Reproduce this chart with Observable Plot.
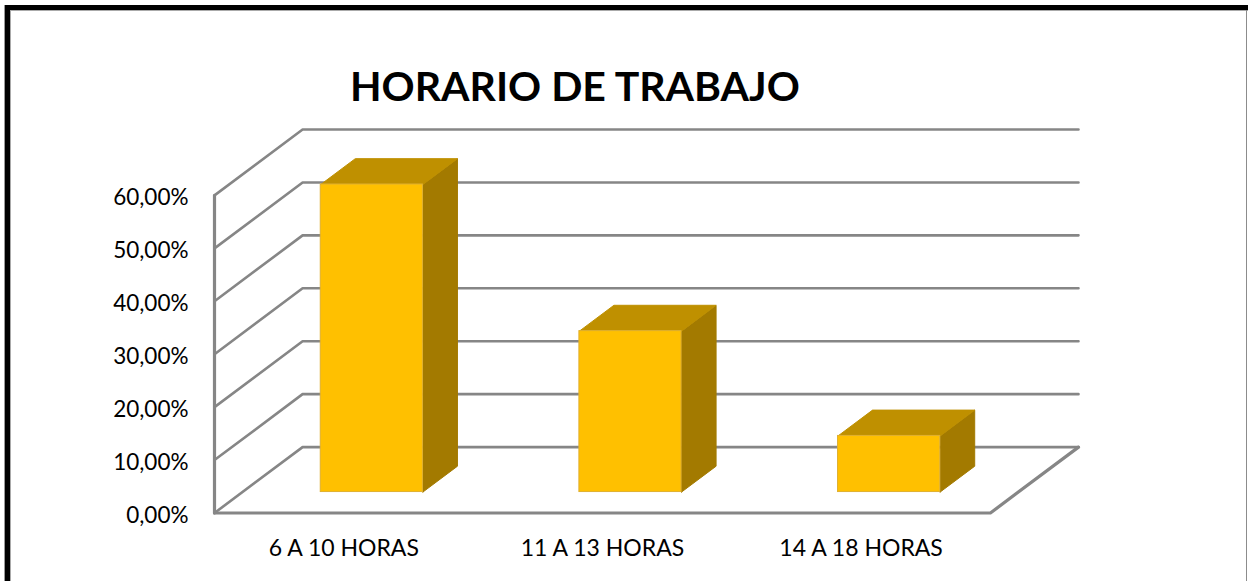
<!DOCTYPE html>
<html><head><meta charset="utf-8">
<script src="https://cdn.jsdelivr.net/npm/d3@7"></script>
<script src="https://cdn.jsdelivr.net/npm/@observablehq/plot@0.6"></script>
<style>
html,body{margin:0;padding:0;background:#fff;overflow:hidden}
#frame{position:absolute;left:5px;top:5px;right:0;height:576px;border-left:5px solid #000;border-top:5px solid #000;box-sizing:border-box;pointer-events:none;box-shadow:-1px 0 0 #999, inset 1px 1px 0 #aaa}
#edge{position:absolute;top:10px;right:1px;width:1px;height:571px;background:#8c8c8c}
#title{position:absolute;left:350px;top:61px;font:bold 41px Lato,sans-serif;color:#000;white-space:nowrap;line-height:50px}
#chart{position:absolute;left:0;top:0}
svg{display:block}
</style></head><body>
<div id="chart"></div>
<div id="title">HORARIO DE TRABAJO</div>
<div id="frame"></div>
<div id="edge"></div>
<script>
const titleText = "HORARIO DE TRABAJO";
const categories = ["6 A 10 HORAS", "11 A 13 HORAS", "14 A 18 HORAS"];
const values = [58.1, 30.4, 10.6];
const yTicks = [0, 10, 20, 30, 40, 50, 60];

// Oblique 3D projection, in data units
const depthX = 0.3406, depthY = 12.45;
const barWidth = 0.395, barDepthStart = 0.318, barDepthEnd = 0.71;
const proj = (cx, v, d) => ({x: cx + d * depthX, y: v + d * depthY});

const gridColor = "#868686", gridWidth = 2.6;
const gridBack = yTicks.flatMap(t => [
  {t, ...proj(0, t, 0)}, {t, ...proj(0, t, 1)}, {t, ...proj(categories.length, t, 1)}
]);
const floorEdge = [proj(0,0,0), proj(categories.length,0,0), proj(categories.length,0,1)];
const wallEdge = [proj(0,0,0), proj(0,60,0)];

const bars = categories.map((c, i) => ({c, v: values[i], x0: i + 0.5 - barWidth / 2, x1: i + 0.5 + barWidth / 2}));
const face = (pts, name) => pts.map(p => ({...p, name}));
const fronts = bars.map(b => ({
  x1: b.x0 + barDepthStart * depthX, x2: b.x1 + barDepthStart * depthX,
  y1: barDepthStart * depthY, y2: b.v + barDepthStart * depthY, c: b.c
}));
const tops = bars.flatMap(b => face([
  proj(b.x0, b.v, barDepthStart), proj(b.x1, b.v, barDepthStart),
  proj(b.x1, b.v, barDepthEnd), proj(b.x0, b.v, barDepthEnd), proj(b.x0, b.v, barDepthStart)
], b.c));
const sides = bars.flatMap(b => face([
  proj(b.x1, 0, barDepthStart), proj(b.x1, b.v, barDepthStart),
  proj(b.x1, b.v, barDepthEnd), proj(b.x1, 0, barDepthEnd), proj(b.x1, 0, barDepthStart)
], b.c));

const plot = Plot.plot({
  width: 1248, height: 581,
  marginLeft: 214, marginRight: 170, marginTop: 129, marginBottom: 68.5,
  style: {background: "transparent", fontFamily: "Lato, sans-serif"},
  x: {domain: [0, categories.length + depthX], axis: null},
  y: {domain: [0, 60 + depthY], axis: null},
  marks: [
    Plot.line(gridBack, {x: "x", y: "y", z: "t", stroke: gridColor, strokeWidth: gridWidth, strokeLinejoin: "miter"}),
    Plot.line(floorEdge, {x: "x", y: "y", stroke: gridColor, strokeWidth: gridWidth + 0.6}),
    Plot.line(wallEdge, {x: "x", y: "y", stroke: gridColor, strokeWidth: gridWidth + 0.6}),
    Plot.line(sides, {x: "x", y: "y", z: "name", fill: "#A37A00", stroke: "#A37A00", strokeWidth: 1}),
    Plot.line(tops, {x: "x", y: "y", z: "name", fill: "#BF9000", stroke: "#BF9000", strokeWidth: 1}),
    Plot.rect(fronts, {x1: "x1", x2: "x2", y1: "y1", y2: "y2", fill: "#FFC000", stroke: "#E0B030", strokeWidth: 1}),
    Plot.axisY({ticks: yTicks, tickSize: 0, tickPadding: 26, dy: 2.5, tickFormat: d => d3.format(".2f")(d).replace(".", ",") + "%", fontSize: 22.5, fill: "#000", label: null}),
    Plot.axisX({ticks: categories.map((c, i) => i + 0.5), tickSize: 0, tickPadding: 27, tickFormat: d => categories[Math.floor(d)], fontSize: 23, fill: "#000", label: null})
  ]
});
document.getElementById("chart").append(plot);
</script>
</body></html>
